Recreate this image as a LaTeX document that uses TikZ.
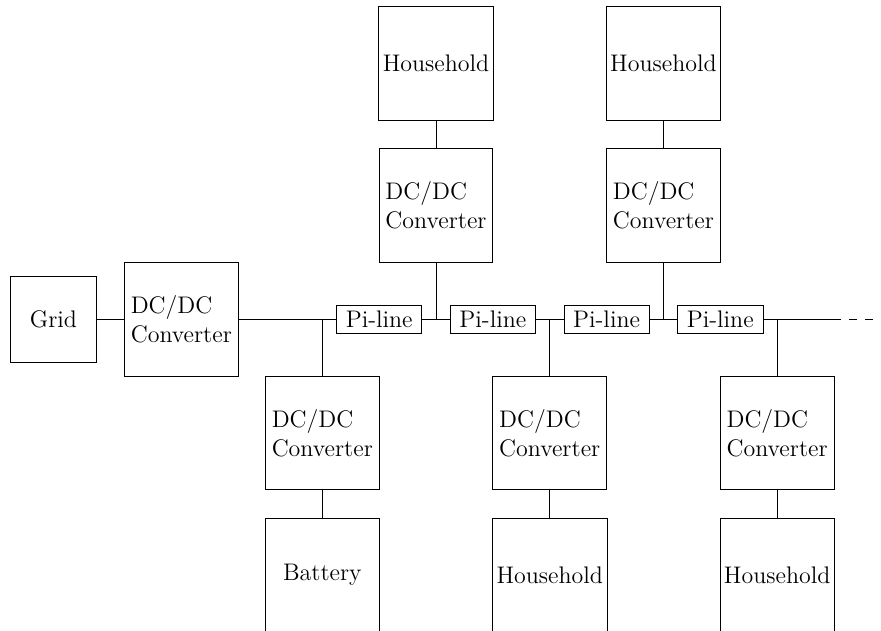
\documentclass[tikz,border=0pt]{standalone}
\usetikzlibrary{positioning}
\tikzset{
  every node/.style={font=\fontsize{12}{14.4}\selectfont},
  conv/.style  = {rectangle, draw, inner sep=2pt, align=left,
                  minimum width=2cm, minimum height=2cm},
  load/.style  = {rectangle, draw, inner sep=2pt, align=center,
                  minimum width=2cm, minimum height=2cm},
  src/.style   = {rectangle, draw, inner sep=2pt, align=center,
                  minimum width=1.5cm, minimum height=1.5cm},
  piline/.style = {rectangle, draw, inner sep=2pt, align=center,
                  minimum width=1.5cm, minimum height=0.5cm},
  wire/.style  = {draw},
  tail/.style  = {draw, dash pattern=on 4pt off 4pt},
}

\begin{document}
\begin{tikzpicture}
  \useasboundingbox (0,-5.465) rectangle (15.497,5.617);

  % ---- grid side ----
  \node[src]  (grid) at (0.94,0)  {Grid};
  \node[conv] (gdc)  at (3.19,0)  {DC/DC\\Converter};

  % ---- line sections ----
  \node[piline] (pi1) at (6.67,0)  {Pi-line};
  \node[piline] (pi2) at (8.67,0)  {Pi-line};
  \node[piline] (pi3) at (10.67,0) {Pi-line};
  \node[piline] (pi4) at (12.67,0) {Pi-line};

  % ---- taps on the bus ----
  \coordinate (j1)  at (5.67,0);
  \coordinate (j2)  at (7.67,0);
  \coordinate (j3)  at (9.67,0);
  \coordinate (j4)  at (11.67,0);
  \coordinate (j5)  at (13.67,0);
  \coordinate (bend) at (14.66,0);
  \coordinate (dend) at (15.36,0);

  % ---- battery (bottom) ----
  \node[conv] (bdc)  at (5.67,-2)   {DC/DC\\Converter};
  \node[load] (batt) at (5.67,-4.5) {Battery};

  % ---- households (top) ----
  \node[conv] (udc1) at (7.67,2)    {DC/DC\\Converter};
  \node[load] (uh1)  at (7.67,4.5)  {Household};
  \node[conv] (udc2) at (11.67,2)   {DC/DC\\Converter};
  \node[load] (uh2)  at (11.67,4.5) {Household};

  % ---- households (bottom) ----
  \node[conv] (ldc1) at (9.67,-2)   {DC/DC\\Converter};
  \node[load] (lh1)  at (9.67,-4.5) {Household};
  \node[conv] (ldc2) at (13.67,-2)  {DC/DC\\Converter};
  \node[load] (lh2)  at (13.67,-4.5) {Household};

  % ---- bus ----
  \draw[wire] (grid) -- (gdc);
  \draw[wire] (gdc)  -- (pi1);
  \draw[wire] (pi1)  -- (pi2);
  \draw[wire] (pi2)  -- (pi3);
  \draw[wire] (pi3)  -- (pi4);
  \draw[wire] (pi4)  -- (bend);
  \draw[tail] (bend) -- (dend);

  % ---- branches ----
  \draw[wire] (j1) -- (bdc);
  \draw[wire] (bdc) -- (batt);
  \draw[wire] (j2) -- (udc1);
  \draw[wire] (udc1) -- (uh1);
  \draw[wire] (j3) -- (ldc1);
  \draw[wire] (ldc1) -- (lh1);
  \draw[wire] (j4) -- (udc2);
  \draw[wire] (udc2) -- (uh2);
  \draw[wire] (j5) -- (ldc2);
  \draw[wire] (ldc2) -- (lh2);
\end{tikzpicture}
\end{document}
